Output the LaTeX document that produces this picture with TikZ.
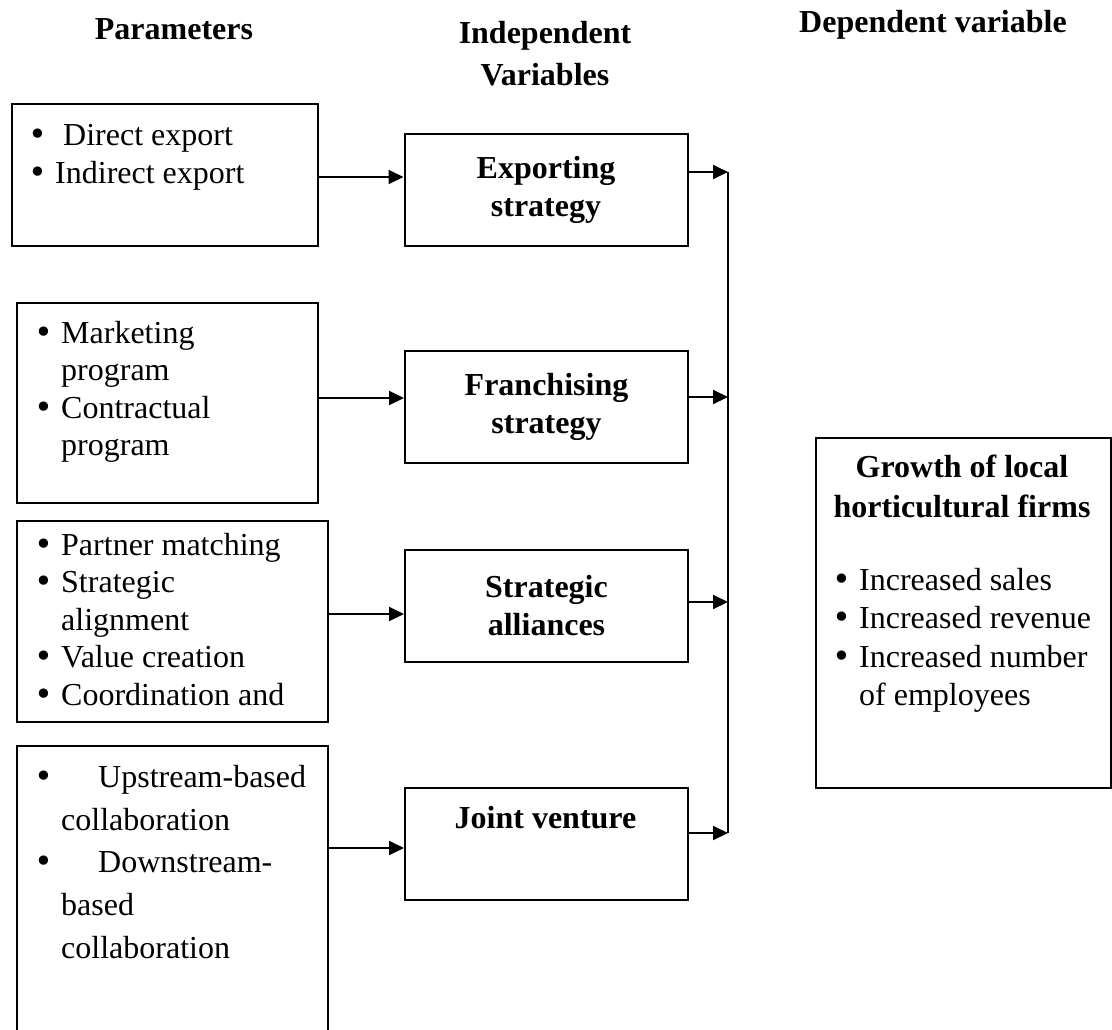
\documentclass[tikz,border=0pt]{standalone}
\usepackage{fontspec}
\setmainfont{Liberation Serif}
\newfontfamily\bulletfont{DejaVu Sans}
\usetikzlibrary{arrows.meta}
\newcommand{\pbullet}{\makebox[23pt][l]{\hspace*{-4pt}{\bulletfont •}}}
\newcommand{\pindent}{\hspace*{23pt}}

\begin{document}
\begin{tikzpicture}[x=1pt,y=-1pt,
  box/.style={draw, line width=2pt, inner sep=0pt, anchor=north west},
  ivar/.style={box, minimum width=283pt, minimum height=112pt, align=center,
    font=\fontsize{32}{38}\selectfont\bfseries},
  list/.style={anchor=north west, inner sep=0pt, align=left,
    font=\fontsize{32}{37.5}\selectfont},
  head/.style={inner sep=0pt, align=center, font=\fontsize{32}{42}\selectfont\bfseries},
  link/.style={line width=2pt, -{Triangle[length=15pt,width=14pt]}}]
  \useasboundingbox (0,0) rectangle (1112,1029);
  \clip (0,0) rectangle (1112,1029);

  % Column headings
  \node[head, anchor=base] (hpar) at (174,39) {Parameters};
  \node[head, anchor=north] (hind) at (545,21) {Independent\\Variables};
  \node[head, anchor=base] (hdep) at (933,32) {Dependent variable};

  % Parameters
  \node[box, minimum width=306pt, minimum height=142pt] (p1) at (11,103) {};
  \node[list] (p1txt) at (32,124.5) {\pbullet\ Direct export\\\pbullet Indirect export};

  \node[box, minimum width=301pt, minimum height=200pt] (p2) at (16,302) {};
  \node[list] (p2txt) at (38,321) {\pbullet Marketing\\\pindent program\\
    \pbullet Contractual\\\pindent program};

  \node[box, minimum width=311pt, minimum height=201pt] (p3) at (16,520) {};
  \node[list] (p3txt) at (38,533) {\pbullet Partner matching\\\pbullet Strategic\\
    \pindent alignment\\\pbullet Value creation\\\pbullet Coordination and};

  \node[box, minimum width=311pt, minimum height=300pt] (p4) at (16,745) {};
  \node[list, font=\fontsize{32}{42.75}\selectfont] (p4txt) at (38,765)
    {\pbullet\hspace{37pt}Upstream-based\\\pindent collaboration\\
     \pbullet\hspace{37pt}Downstream-\\\pindent based\\\pindent collaboration};

  % Independent variables
  \node[ivar] (i1) at (403.5,133) {Exporting\\strategy};
  \node[ivar] (i2) at (404,350) {Franchising\\strategy};
  \node[ivar] (i3) at (404,549) {Strategic\\alliances};
  \node[ivar] (i4) at (404,787) {};
  \node[head, anchor=base] (i4txt) at (545.5,828) {Joint venture};

  % Dependent variable
  \node[box, minimum width=295pt, minimum height=350pt] (dep) at (815,437) {};
  \node[head, anchor=north, font=\fontsize{32}{40}\selectfont\bfseries] (deptitle)
    at (962,455) {Growth of local\\horticultural firms};
  \node[list, font=\fontsize{32}{38.3}\selectfont] (deplist) at (836,568)
    {\pbullet Increased sales\\\pbullet Increased revenue\\
     \pbullet Increased number\\\pindent of employees};

  % Arrows
  \foreach \n/\ya/\yb in {1/177/172, 2/398/397, 3/614/602, 4/848/833} {
    \coordinate (a\n) at (0,\ya);
    \coordinate (b\n) at (728,\yb);
    \draw[link] (p\n.east |- a\n) -- (i\n.west |- a\n);
    \draw[link] (i\n.east |- b\n) -- (b\n);
  }
  \draw[line width=2pt] (b1) -- (b4);
\end{tikzpicture}
\end{document}
